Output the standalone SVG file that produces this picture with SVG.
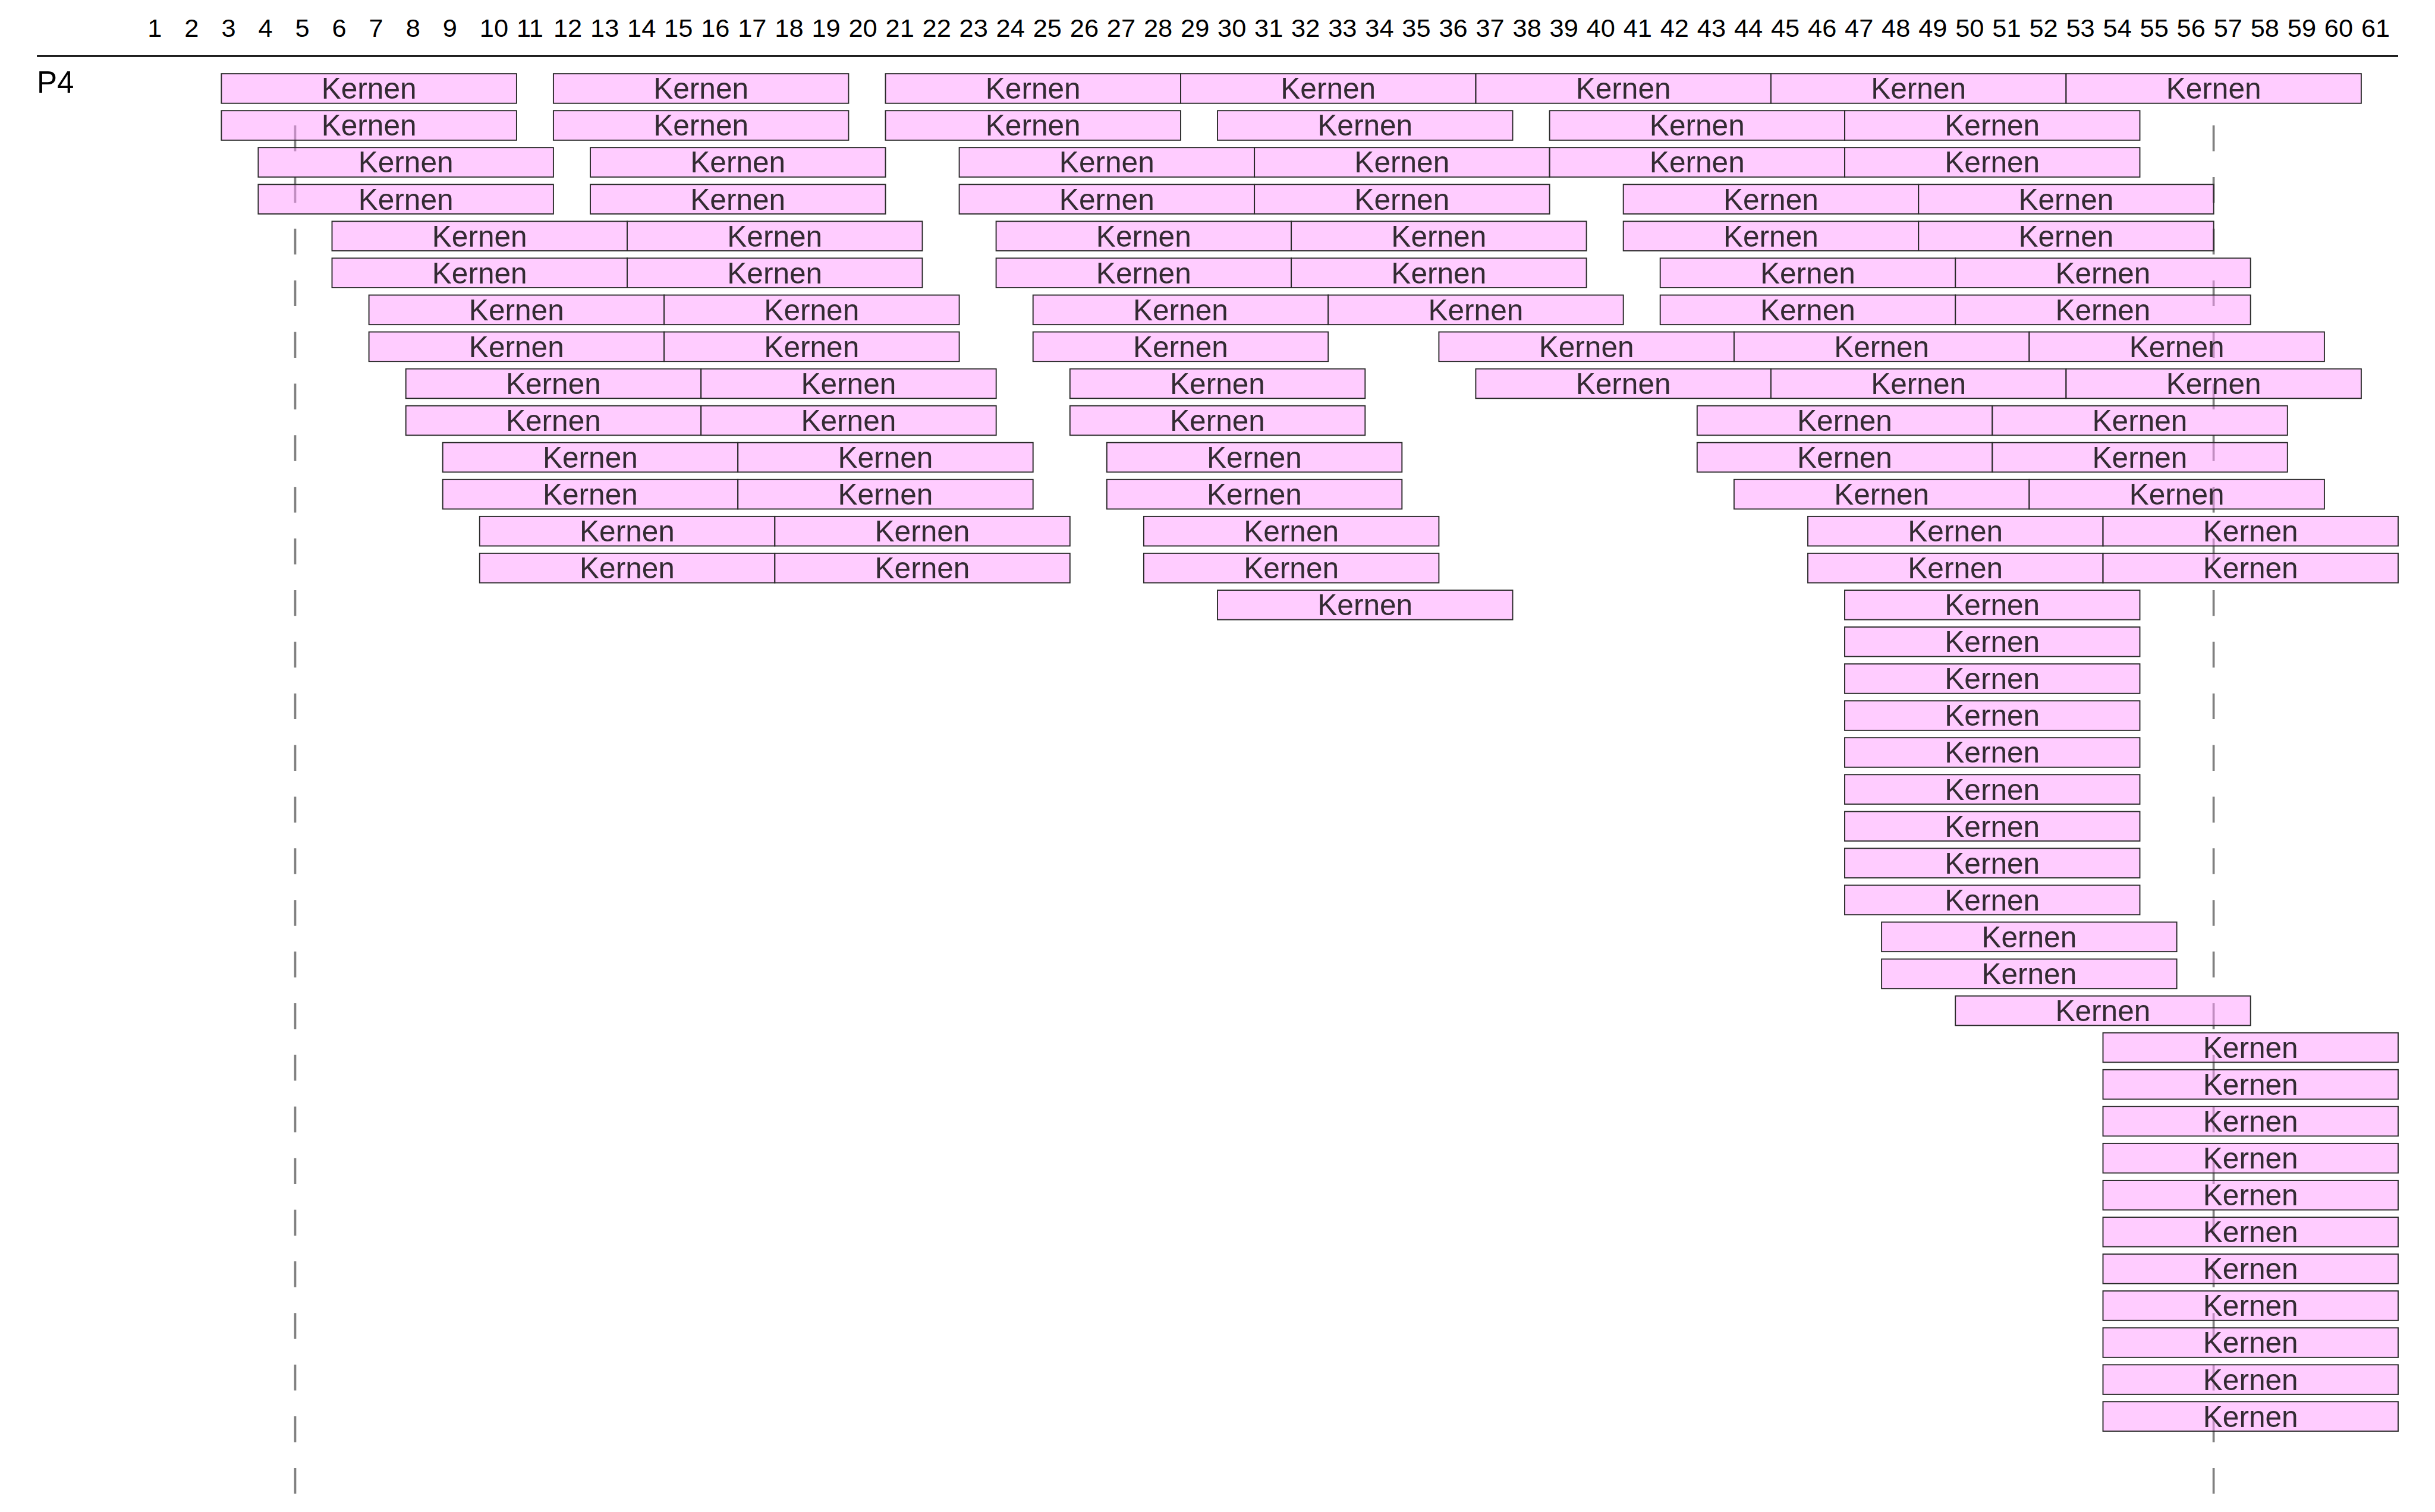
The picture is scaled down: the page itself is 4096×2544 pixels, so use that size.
<svg xmlns="http://www.w3.org/2000/svg" width="4096" height="2544" viewBox="0 0 4096 2544">
<style>
.num{font-family:"Liberation Sans",Arial,sans-serif;font-size:43.4px;fill:#000}
.title{font-family:"Liberation Sans",Arial,sans-serif;font-size:51px;fill:#000}
.box{fill:#ff99ff;fill-opacity:0.5;stroke:#2a2a2a;stroke-width:1.9}
.lbl{font-family:"Liberation Sans",Arial,sans-serif;font-size:49.6px;fill:#332b33;text-anchor:middle}
.guide{stroke:#808080;stroke-width:3.7;stroke-dasharray:43.44 43.44;fill:none}
</style>
<rect width="4096" height="2544" fill="#fff"/>
<g id="header">
<text class="num" x="248.2" y="62.1">1</text><text class="num" x="310.3" y="62.1">2</text><text class="num" x="372.4" y="62.1">3</text><text class="num" x="434.4" y="62.1">4</text><text class="num" x="496.5" y="62.1">5</text><text class="num" x="558.5" y="62.1">6</text><text class="num" x="620.6" y="62.1">7</text><text class="num" x="682.7" y="62.1">8</text><text class="num" x="744.7" y="62.1">9</text><text class="num" x="806.8" y="62.1">10</text><text class="num" x="868.9" y="62.1">11</text><text class="num" x="930.9" y="62.1">12</text><text class="num" x="993.0" y="62.1">13</text><text class="num" x="1055.0" y="62.1">14</text><text class="num" x="1117.1" y="62.1">15</text><text class="num" x="1179.2" y="62.1">16</text><text class="num" x="1241.2" y="62.1">17</text><text class="num" x="1303.3" y="62.1">18</text><text class="num" x="1365.4" y="62.1">19</text><text class="num" x="1427.4" y="62.1">20</text><text class="num" x="1489.5" y="62.1">21</text><text class="num" x="1551.5" y="62.1">22</text><text class="num" x="1613.6" y="62.1">23</text><text class="num" x="1675.6" y="62.1">24</text><text class="num" x="1737.7" y="62.1">25</text><text class="num" x="1799.8" y="62.1">26</text><text class="num" x="1861.8" y="62.1">27</text><text class="num" x="1923.9" y="62.1">28</text><text class="num" x="1986.0" y="62.1">29</text><text class="num" x="2048.0" y="62.1">30</text><text class="num" x="2110.1" y="62.1">31</text><text class="num" x="2172.1" y="62.1">32</text><text class="num" x="2234.2" y="62.1">33</text><text class="num" x="2296.3" y="62.1">34</text><text class="num" x="2358.3" y="62.1">35</text><text class="num" x="2420.4" y="62.1">36</text><text class="num" x="2482.4" y="62.1">37</text><text class="num" x="2544.5" y="62.1">38</text><text class="num" x="2606.6" y="62.1">39</text><text class="num" x="2668.6" y="62.1">40</text><text class="num" x="2730.7" y="62.1">41</text><text class="num" x="2792.7" y="62.1">42</text><text class="num" x="2854.8" y="62.1">43</text><text class="num" x="2916.9" y="62.1">44</text><text class="num" x="2978.9" y="62.1">45</text><text class="num" x="3041.0" y="62.1">46</text><text class="num" x="3103.0" y="62.1">47</text><text class="num" x="3165.1" y="62.1">48</text><text class="num" x="3227.2" y="62.1">49</text><text class="num" x="3289.2" y="62.1">50</text><text class="num" x="3351.3" y="62.1">51</text><text class="num" x="3413.4" y="62.1">52</text><text class="num" x="3475.4" y="62.1">53</text><text class="num" x="3537.5" y="62.1">54</text><text class="num" x="3599.5" y="62.1">55</text><text class="num" x="3661.6" y="62.1">56</text><text class="num" x="3723.7" y="62.1">57</text><text class="num" x="3785.7" y="62.1">58</text><text class="num" x="3847.8" y="62.1">59</text><text class="num" x="3909.8" y="62.1">60</text><text class="num" x="3971.9" y="62.1">61</text>
<line x1="62.1" y1="94.3" x2="4034" y2="94.3" stroke="#000" stroke-width="2.8"/>
<text class="title" x="62" y="155.6">P4</text>
</g>
<g id="connectors">
<line class="guide" x1="496.5" y1="211" x2="496.5" y2="2544"/>
<line class="guide" x1="3723.6" y1="211" x2="3723.6" y2="2544"/>
</g>
<defs>
<g id="kb"><rect class="box" width="496.5" height="49.65"/><text class="lbl" x="248.2" y="42.2">Kernen</text></g>
</defs>
<g id="nodes">
<g id="r1c3" transform="translate(372.4,124.1)"><rect class="box" width="496.5" height="49.65"/><text class="lbl" x="248.2" y="42.2">Kernen</text></g>
<g id="r1c12" transform="translate(930.9,124.1)"><rect class="box" width="496.5" height="49.65"/><text class="lbl" x="248.2" y="42.2">Kernen</text></g>
<g id="r1c21" transform="translate(1489.5,124.1)"><rect class="box" width="496.5" height="49.65"/><text class="lbl" x="248.2" y="42.2">Kernen</text></g>
<g id="r1c29" transform="translate(1986.0,124.1)"><rect class="box" width="496.5" height="49.65"/><text class="lbl" x="248.2" y="42.2">Kernen</text></g>
<g id="r1c37" transform="translate(2482.4,124.1)"><rect class="box" width="496.5" height="49.65"/><text class="lbl" x="248.2" y="42.2">Kernen</text></g>
<g id="r1c45" transform="translate(2978.9,124.1)"><rect class="box" width="496.5" height="49.65"/><text class="lbl" x="248.2" y="42.2">Kernen</text></g>
<g id="r1c53" transform="translate(3475.4,124.1)"><rect class="box" width="496.5" height="49.65"/><text class="lbl" x="248.2" y="42.2">Kernen</text></g>

<g id="r2c3" transform="translate(372.4,186.2)"><rect class="box" width="496.5" height="49.65"/><text class="lbl" x="248.2" y="42.2">Kernen</text></g>
<g id="r2c12" transform="translate(930.9,186.2)"><rect class="box" width="496.5" height="49.65"/><text class="lbl" x="248.2" y="42.2">Kernen</text></g>
<g id="r2c21" transform="translate(1489.5,186.2)"><rect class="box" width="496.5" height="49.65"/><text class="lbl" x="248.2" y="42.2">Kernen</text></g>
<g id="r2c30" transform="translate(2048.0,186.2)"><rect class="box" width="496.5" height="49.65"/><text class="lbl" x="248.2" y="42.2">Kernen</text></g>
<g id="r2c39" transform="translate(2606.6,186.2)"><rect class="box" width="496.5" height="49.65"/><text class="lbl" x="248.2" y="42.2">Kernen</text></g>
<g id="r2c47" transform="translate(3103.0,186.2)"><rect class="box" width="496.5" height="49.65"/><text class="lbl" x="248.2" y="42.2">Kernen</text></g>

<g id="r3c4" transform="translate(434.4,248.2)"><rect class="box" width="496.5" height="49.65"/><text class="lbl" x="248.2" y="42.2">Kernen</text></g>
<g id="r3c13" transform="translate(993.0,248.2)"><rect class="box" width="496.5" height="49.65"/><text class="lbl" x="248.2" y="42.2">Kernen</text></g>
<g id="r3c23" transform="translate(1613.6,248.2)"><rect class="box" width="496.5" height="49.65"/><text class="lbl" x="248.2" y="42.2">Kernen</text></g>
<g id="r3c31" transform="translate(2110.1,248.2)"><rect class="box" width="496.5" height="49.65"/><text class="lbl" x="248.2" y="42.2">Kernen</text></g>
<g id="r3c39" transform="translate(2606.6,248.2)"><rect class="box" width="496.5" height="49.65"/><text class="lbl" x="248.2" y="42.2">Kernen</text></g>
<g id="r3c47" transform="translate(3103.0,248.2)"><rect class="box" width="496.5" height="49.65"/><text class="lbl" x="248.2" y="42.2">Kernen</text></g>

<g id="r4c4" transform="translate(434.4,310.3)"><rect class="box" width="496.5" height="49.65"/><text class="lbl" x="248.2" y="42.2">Kernen</text></g>
<g id="r4c13" transform="translate(993.0,310.3)"><rect class="box" width="496.5" height="49.65"/><text class="lbl" x="248.2" y="42.2">Kernen</text></g>
<g id="r4c23" transform="translate(1613.6,310.3)"><rect class="box" width="496.5" height="49.65"/><text class="lbl" x="248.2" y="42.2">Kernen</text></g>
<g id="r4c31" transform="translate(2110.1,310.3)"><rect class="box" width="496.5" height="49.65"/><text class="lbl" x="248.2" y="42.2">Kernen</text></g>
<g id="r4c41" transform="translate(2730.7,310.3)"><rect class="box" width="496.5" height="49.65"/><text class="lbl" x="248.2" y="42.2">Kernen</text></g>
<g id="r4c49" transform="translate(3227.2,310.3)"><rect class="box" width="496.5" height="49.65"/><text class="lbl" x="248.2" y="42.2">Kernen</text></g>

<g id="r5c6" transform="translate(558.5,372.4)"><rect class="box" width="496.5" height="49.65"/><text class="lbl" x="248.2" y="42.2">Kernen</text></g>
<g id="r5c14" transform="translate(1055.0,372.4)"><rect class="box" width="496.5" height="49.65"/><text class="lbl" x="248.2" y="42.2">Kernen</text></g>
<g id="r5c24" transform="translate(1675.6,372.4)"><rect class="box" width="496.5" height="49.65"/><text class="lbl" x="248.2" y="42.2">Kernen</text></g>
<g id="r5c32" transform="translate(2172.1,372.4)"><rect class="box" width="496.5" height="49.65"/><text class="lbl" x="248.2" y="42.2">Kernen</text></g>
<g id="r5c41" transform="translate(2730.7,372.4)"><rect class="box" width="496.5" height="49.65"/><text class="lbl" x="248.2" y="42.2">Kernen</text></g>
<g id="r5c49" transform="translate(3227.2,372.4)"><rect class="box" width="496.5" height="49.65"/><text class="lbl" x="248.2" y="42.2">Kernen</text></g>

<g id="r6c6" transform="translate(558.5,434.4)"><rect class="box" width="496.5" height="49.65"/><text class="lbl" x="248.2" y="42.2">Kernen</text></g>
<g id="r6c14" transform="translate(1055.0,434.4)"><rect class="box" width="496.5" height="49.65"/><text class="lbl" x="248.2" y="42.2">Kernen</text></g>
<g id="r6c24" transform="translate(1675.6,434.4)"><rect class="box" width="496.5" height="49.65"/><text class="lbl" x="248.2" y="42.2">Kernen</text></g>
<g id="r6c32" transform="translate(2172.1,434.4)"><rect class="box" width="496.5" height="49.65"/><text class="lbl" x="248.2" y="42.2">Kernen</text></g>
<g id="r6c42" transform="translate(2792.7,434.4)"><rect class="box" width="496.5" height="49.65"/><text class="lbl" x="248.2" y="42.2">Kernen</text></g>
<g id="r6c50" transform="translate(3289.2,434.4)"><rect class="box" width="496.5" height="49.65"/><text class="lbl" x="248.2" y="42.2">Kernen</text></g>

<g id="r7c7" transform="translate(620.6,496.5)"><rect class="box" width="496.5" height="49.65"/><text class="lbl" x="248.2" y="42.2">Kernen</text></g>
<g id="r7c15" transform="translate(1117.1,496.5)"><rect class="box" width="496.5" height="49.65"/><text class="lbl" x="248.2" y="42.2">Kernen</text></g>
<g id="r7c25" transform="translate(1737.7,496.5)"><rect class="box" width="496.5" height="49.65"/><text class="lbl" x="248.2" y="42.2">Kernen</text></g>
<g id="r7c33" transform="translate(2234.2,496.5)"><rect class="box" width="496.5" height="49.65"/><text class="lbl" x="248.2" y="42.2">Kernen</text></g>
<g id="r7c42" transform="translate(2792.7,496.5)"><rect class="box" width="496.5" height="49.65"/><text class="lbl" x="248.2" y="42.2">Kernen</text></g>
<g id="r7c50" transform="translate(3289.2,496.5)"><rect class="box" width="496.5" height="49.65"/><text class="lbl" x="248.2" y="42.2">Kernen</text></g>

<g id="r8c7" transform="translate(620.6,558.5)"><rect class="box" width="496.5" height="49.65"/><text class="lbl" x="248.2" y="42.2">Kernen</text></g>
<g id="r8c15" transform="translate(1117.1,558.5)"><rect class="box" width="496.5" height="49.65"/><text class="lbl" x="248.2" y="42.2">Kernen</text></g>
<g id="r8c25" transform="translate(1737.7,558.5)"><rect class="box" width="496.5" height="49.65"/><text class="lbl" x="248.2" y="42.2">Kernen</text></g>
<g id="r8c36" transform="translate(2420.4,558.5)"><rect class="box" width="496.5" height="49.65"/><text class="lbl" x="248.2" y="42.2">Kernen</text></g>
<g id="r8c44" transform="translate(2916.9,558.5)"><rect class="box" width="496.5" height="49.65"/><text class="lbl" x="248.2" y="42.2">Kernen</text></g>
<g id="r8c52" transform="translate(3413.4,558.5)"><rect class="box" width="496.5" height="49.65"/><text class="lbl" x="248.2" y="42.2">Kernen</text></g>

<g id="r9c8" transform="translate(682.7,620.6)"><rect class="box" width="496.5" height="49.65"/><text class="lbl" x="248.2" y="42.2">Kernen</text></g>
<g id="r9c16" transform="translate(1179.2,620.6)"><rect class="box" width="496.5" height="49.65"/><text class="lbl" x="248.2" y="42.2">Kernen</text></g>
<g id="r9c26" transform="translate(1799.8,620.6)"><rect class="box" width="496.5" height="49.65"/><text class="lbl" x="248.2" y="42.2">Kernen</text></g>
<g id="r9c37" transform="translate(2482.4,620.6)"><rect class="box" width="496.5" height="49.65"/><text class="lbl" x="248.2" y="42.2">Kernen</text></g>
<g id="r9c45" transform="translate(2978.9,620.6)"><rect class="box" width="496.5" height="49.65"/><text class="lbl" x="248.2" y="42.2">Kernen</text></g>
<g id="r9c53" transform="translate(3475.4,620.6)"><rect class="box" width="496.5" height="49.65"/><text class="lbl" x="248.2" y="42.2">Kernen</text></g>

<g id="r10c8" transform="translate(682.7,682.7)"><rect class="box" width="496.5" height="49.65"/><text class="lbl" x="248.2" y="42.2">Kernen</text></g>
<g id="r10c16" transform="translate(1179.2,682.7)"><rect class="box" width="496.5" height="49.65"/><text class="lbl" x="248.2" y="42.2">Kernen</text></g>
<g id="r10c26" transform="translate(1799.8,682.7)"><rect class="box" width="496.5" height="49.65"/><text class="lbl" x="248.2" y="42.2">Kernen</text></g>
<g id="r10c43" transform="translate(2854.8,682.7)"><rect class="box" width="496.5" height="49.65"/><text class="lbl" x="248.2" y="42.2">Kernen</text></g>
<g id="r10c51" transform="translate(3351.3,682.7)"><rect class="box" width="496.5" height="49.65"/><text class="lbl" x="248.2" y="42.2">Kernen</text></g>

<g id="r11c9" transform="translate(744.7,744.7)"><rect class="box" width="496.5" height="49.65"/><text class="lbl" x="248.2" y="42.2">Kernen</text></g>
<g id="r11c17" transform="translate(1241.2,744.7)"><rect class="box" width="496.5" height="49.65"/><text class="lbl" x="248.2" y="42.2">Kernen</text></g>
<g id="r11c27" transform="translate(1861.8,744.7)"><rect class="box" width="496.5" height="49.65"/><text class="lbl" x="248.2" y="42.2">Kernen</text></g>
<g id="r11c43" transform="translate(2854.8,744.7)"><rect class="box" width="496.5" height="49.65"/><text class="lbl" x="248.2" y="42.2">Kernen</text></g>
<g id="r11c51" transform="translate(3351.3,744.7)"><rect class="box" width="496.5" height="49.65"/><text class="lbl" x="248.2" y="42.2">Kernen</text></g>

<g id="r12c9" transform="translate(744.7,806.8)"><rect class="box" width="496.5" height="49.65"/><text class="lbl" x="248.2" y="42.2">Kernen</text></g>
<g id="r12c17" transform="translate(1241.2,806.8)"><rect class="box" width="496.5" height="49.65"/><text class="lbl" x="248.2" y="42.2">Kernen</text></g>
<g id="r12c27" transform="translate(1861.8,806.8)"><rect class="box" width="496.5" height="49.65"/><text class="lbl" x="248.2" y="42.2">Kernen</text></g>
<g id="r12c44" transform="translate(2916.9,806.8)"><rect class="box" width="496.5" height="49.65"/><text class="lbl" x="248.2" y="42.2">Kernen</text></g>
<g id="r12c52" transform="translate(3413.4,806.8)"><rect class="box" width="496.5" height="49.65"/><text class="lbl" x="248.2" y="42.2">Kernen</text></g>

<g id="r13c10" transform="translate(806.8,868.9)"><rect class="box" width="496.5" height="49.65"/><text class="lbl" x="248.2" y="42.2">Kernen</text></g>
<g id="r13c18" transform="translate(1303.3,868.9)"><rect class="box" width="496.5" height="49.65"/><text class="lbl" x="248.2" y="42.2">Kernen</text></g>
<g id="r13c28" transform="translate(1923.9,868.9)"><rect class="box" width="496.5" height="49.65"/><text class="lbl" x="248.2" y="42.2">Kernen</text></g>
<g id="r13c46" transform="translate(3041.0,868.9)"><rect class="box" width="496.5" height="49.65"/><text class="lbl" x="248.2" y="42.2">Kernen</text></g>
<g id="r13c54" transform="translate(3537.5,868.9)"><rect class="box" width="496.5" height="49.65"/><text class="lbl" x="248.2" y="42.2">Kernen</text></g>

<g id="r14c10" transform="translate(806.8,930.9)"><rect class="box" width="496.5" height="49.65"/><text class="lbl" x="248.2" y="42.2">Kernen</text></g>
<g id="r14c18" transform="translate(1303.3,930.9)"><rect class="box" width="496.5" height="49.65"/><text class="lbl" x="248.2" y="42.2">Kernen</text></g>
<g id="r14c28" transform="translate(1923.9,930.9)"><rect class="box" width="496.5" height="49.65"/><text class="lbl" x="248.2" y="42.2">Kernen</text></g>
<g id="r14c46" transform="translate(3041.0,930.9)"><rect class="box" width="496.5" height="49.65"/><text class="lbl" x="248.2" y="42.2">Kernen</text></g>
<g id="r14c54" transform="translate(3537.5,930.9)"><rect class="box" width="496.5" height="49.65"/><text class="lbl" x="248.2" y="42.2">Kernen</text></g>

<g id="r15c30" transform="translate(2048.0,993.0)"><rect class="box" width="496.5" height="49.65"/><text class="lbl" x="248.2" y="42.2">Kernen</text></g>
<g id="r15c47" transform="translate(3103.0,993.0)"><rect class="box" width="496.5" height="49.65"/><text class="lbl" x="248.2" y="42.2">Kernen</text></g>

<g id="r16c47" transform="translate(3103.0,1055.0)"><rect class="box" width="496.5" height="49.65"/><text class="lbl" x="248.2" y="42.2">Kernen</text></g>
<g id="r17c47" transform="translate(3103.0,1117.1)"><rect class="box" width="496.5" height="49.65"/><text class="lbl" x="248.2" y="42.2">Kernen</text></g>
<g id="r18c47" transform="translate(3103.0,1179.2)"><rect class="box" width="496.5" height="49.65"/><text class="lbl" x="248.2" y="42.2">Kernen</text></g>
<g id="r19c47" transform="translate(3103.0,1241.2)"><rect class="box" width="496.5" height="49.65"/><text class="lbl" x="248.2" y="42.2">Kernen</text></g>
<g id="r20c47" transform="translate(3103.0,1303.3)"><rect class="box" width="496.5" height="49.65"/><text class="lbl" x="248.2" y="42.2">Kernen</text></g>
<g id="r21c47" transform="translate(3103.0,1365.4)"><rect class="box" width="496.5" height="49.65"/><text class="lbl" x="248.2" y="42.2">Kernen</text></g>
<g id="r22c47" transform="translate(3103.0,1427.4)"><rect class="box" width="496.5" height="49.65"/><text class="lbl" x="248.2" y="42.2">Kernen</text></g>
<g id="r23c47" transform="translate(3103.0,1489.5)"><rect class="box" width="496.5" height="49.65"/><text class="lbl" x="248.2" y="42.2">Kernen</text></g>
<g id="r24c48" transform="translate(3165.1,1551.5)"><rect class="box" width="496.5" height="49.65"/><text class="lbl" x="248.2" y="42.2">Kernen</text></g>
<g id="r25c48" transform="translate(3165.1,1613.6)"><rect class="box" width="496.5" height="49.65"/><text class="lbl" x="248.2" y="42.2">Kernen</text></g>
<g id="r26c50" transform="translate(3289.2,1675.7)"><rect class="box" width="496.5" height="49.65"/><text class="lbl" x="248.2" y="42.2">Kernen</text></g>
<g id="r27c54" transform="translate(3537.5,1737.7)"><rect class="box" width="496.5" height="49.65"/><text class="lbl" x="248.2" y="42.2">Kernen</text></g>
<g id="r28c54" transform="translate(3537.5,1799.8)"><rect class="box" width="496.5" height="49.65"/><text class="lbl" x="248.2" y="42.2">Kernen</text></g>
<g id="r29c54" transform="translate(3537.5,1861.8)"><rect class="box" width="496.5" height="49.65"/><text class="lbl" x="248.2" y="42.2">Kernen</text></g>
<g id="r30c54" transform="translate(3537.5,1923.9)"><rect class="box" width="496.5" height="49.65"/><text class="lbl" x="248.2" y="42.2">Kernen</text></g>
<g id="r31c54" transform="translate(3537.5,1986.0)"><rect class="box" width="496.5" height="49.65"/><text class="lbl" x="248.2" y="42.2">Kernen</text></g>
<g id="r32c54" transform="translate(3537.5,2048.0)"><rect class="box" width="496.5" height="49.65"/><text class="lbl" x="248.2" y="42.2">Kernen</text></g>
<g id="r33c54" transform="translate(3537.5,2110.1)"><rect class="box" width="496.5" height="49.65"/><text class="lbl" x="248.2" y="42.2">Kernen</text></g>
<g id="r34c54" transform="translate(3537.5,2172.1)"><rect class="box" width="496.5" height="49.65"/><text class="lbl" x="248.2" y="42.2">Kernen</text></g>
<g id="r35c54" transform="translate(3537.5,2234.2)"><rect class="box" width="496.5" height="49.65"/><text class="lbl" x="248.2" y="42.2">Kernen</text></g>
<g id="r36c54" transform="translate(3537.5,2296.3)"><rect class="box" width="496.5" height="49.65"/><text class="lbl" x="248.2" y="42.2">Kernen</text></g>
<g id="r37c54" transform="translate(3537.5,2358.3)"><rect class="box" width="496.5" height="49.65"/><text class="lbl" x="248.2" y="42.2">Kernen</text></g>
</g>
</svg>
